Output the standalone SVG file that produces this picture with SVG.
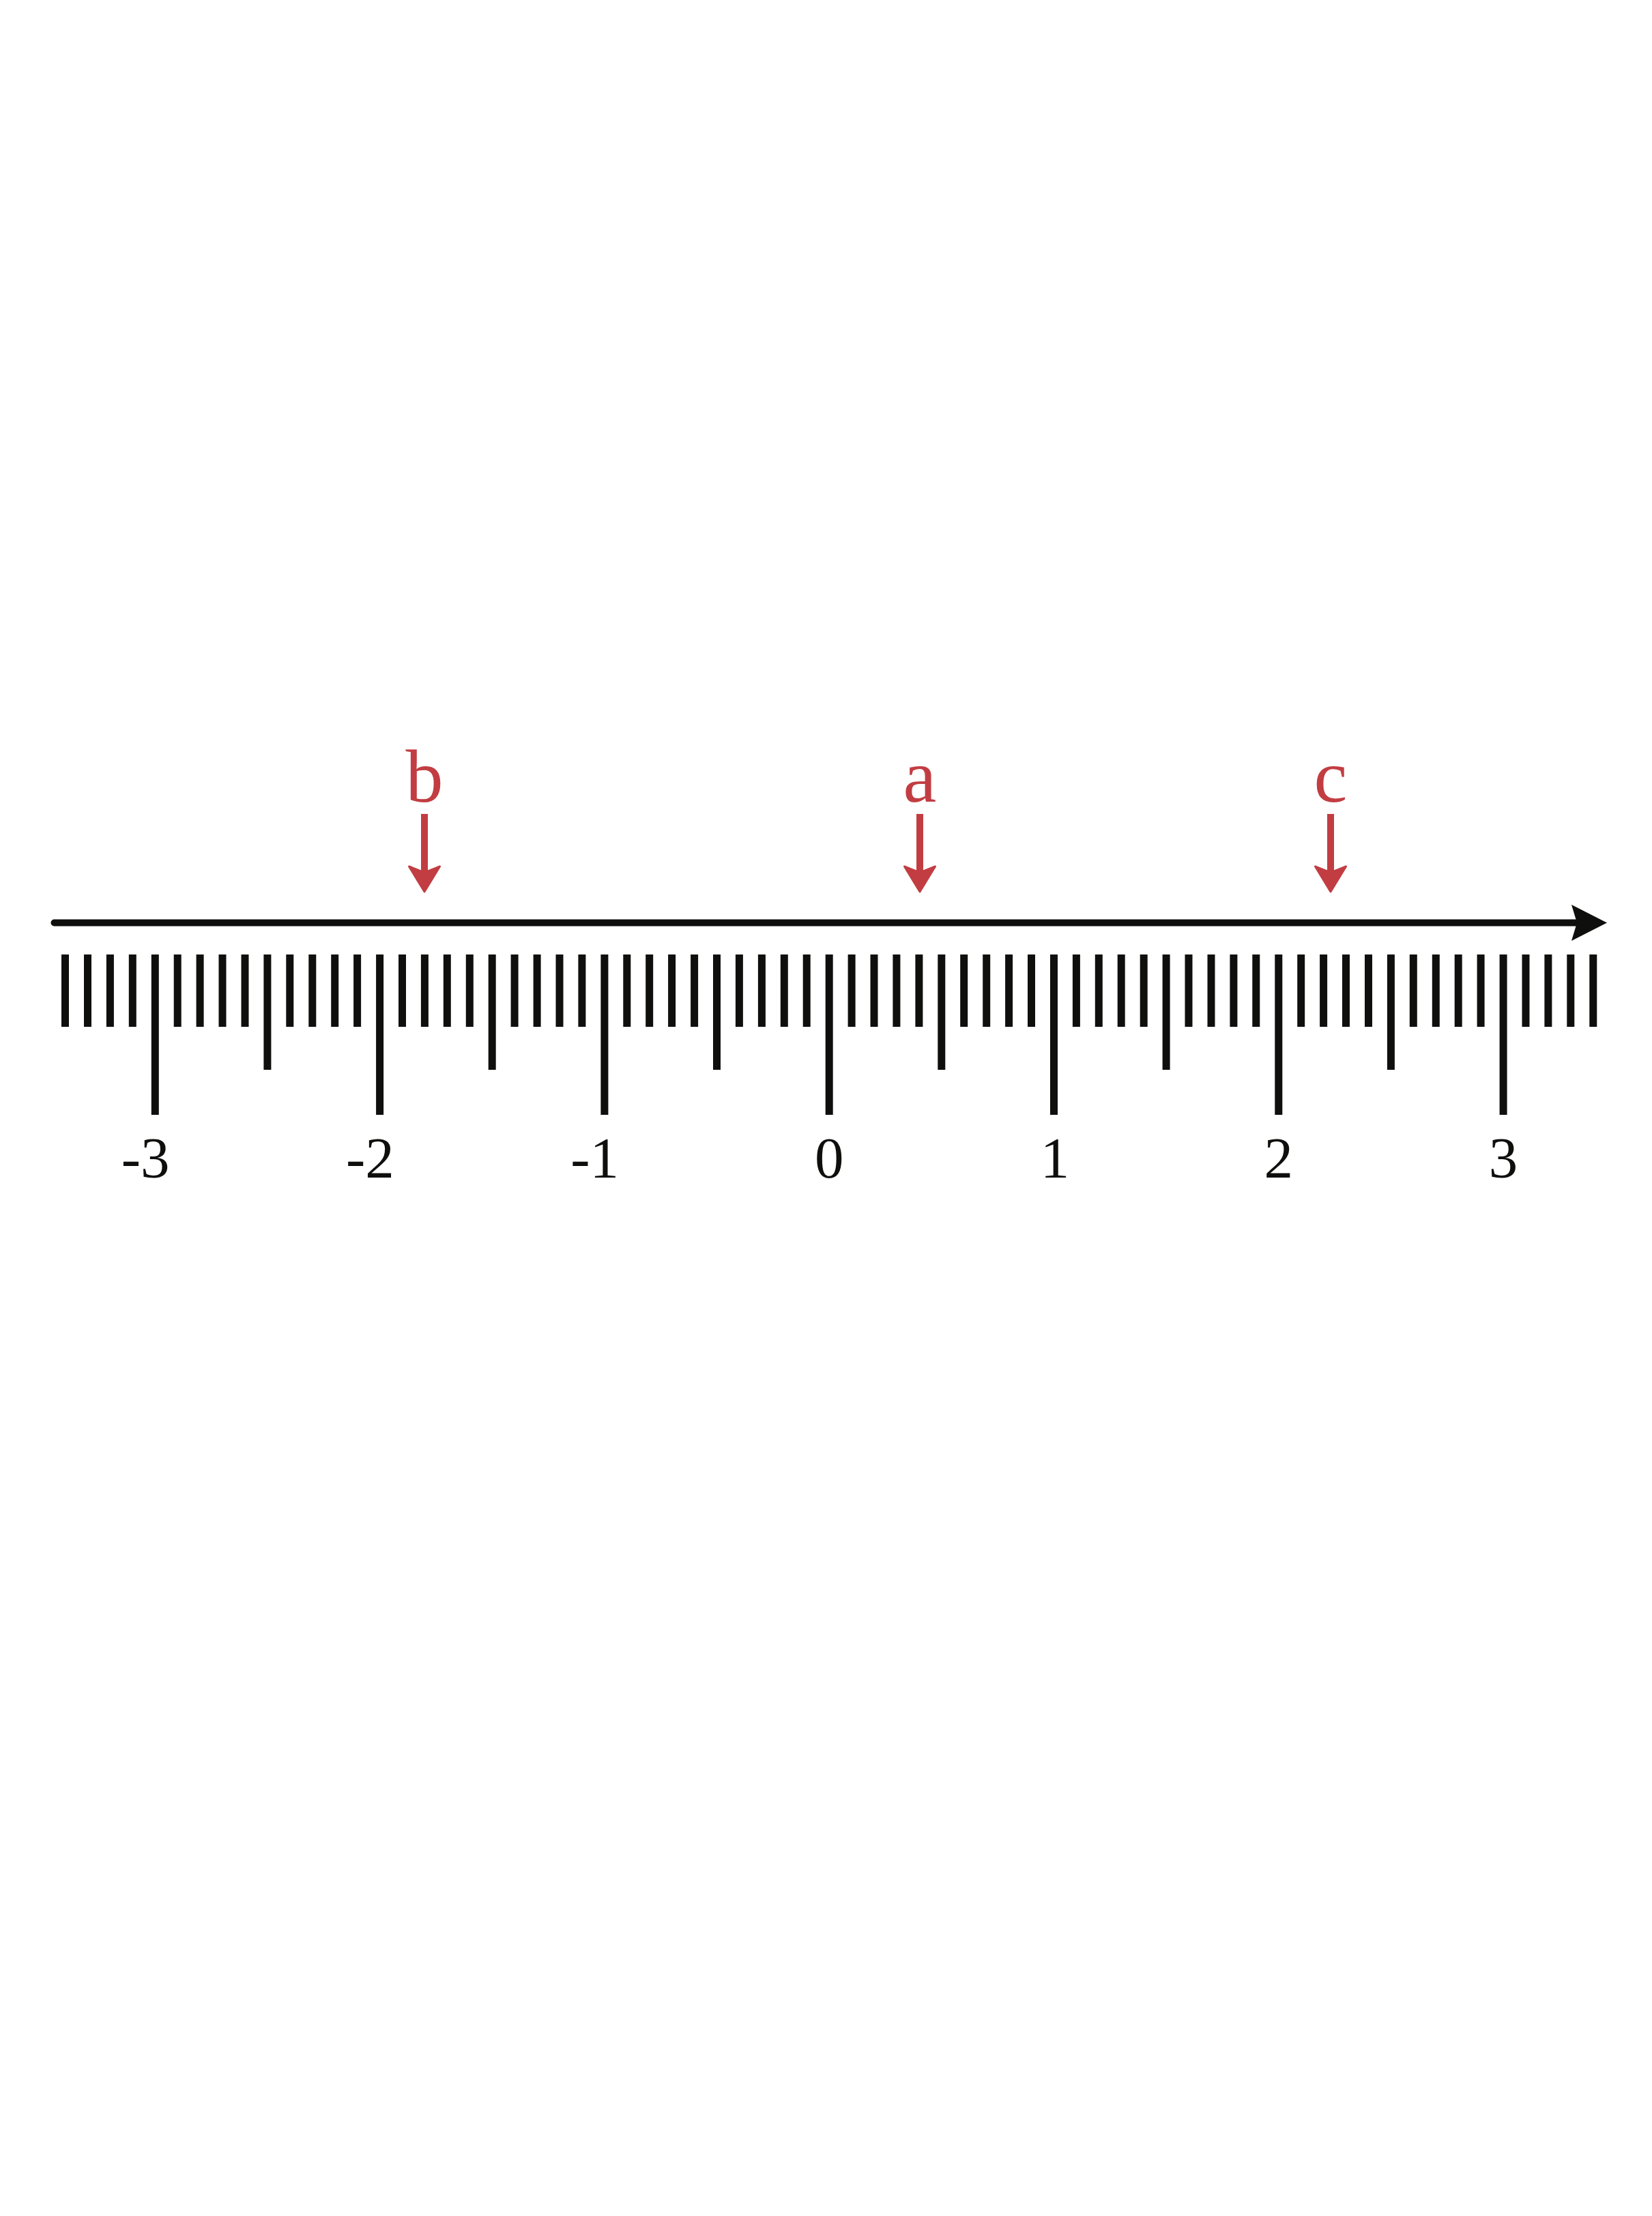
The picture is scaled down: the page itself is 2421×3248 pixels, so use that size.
<svg xmlns="http://www.w3.org/2000/svg" width="2421" height="3248" viewBox="0 0 2421 3248">
<style>
.ax{stroke:#0f0f0d;stroke-width:10;stroke-linecap:round;fill:none}
.tk{stroke:#0f0f0d;stroke-width:11;fill:none}
.num{font-family:"Liberation Serif","Times New Roman",serif;font-size:85px;fill:#0f0f0d}
.lbl{font-family:"Liberation Serif","Times New Roman",serif;font-size:110px;fill:#c23d42;text-anchor:middle}
.rs{stroke:#c23d42;stroke-width:10;fill:none}
.rh{fill:#c23d42;stroke:#c23d42;stroke-width:3;stroke-linejoin:round}
</style>
<rect width="2421" height="3248" fill="#ffffff"/>
<g id="axis">
<line class="ax" x1="79.5" y1="1352.5" x2="2312" y2="1352.5"/>
<path d="M2355,1352.5 L2303,1326 L2311,1352.5 L2303,1379 Z" fill="#0f0f0d"/>
</g>
<g id="ticks">
<path class="tk" d="M95.5,1399V1505 M128.5,1399V1505 M161.4,1399V1505 M194.3,1399V1505 M260.2,1399V1505 M293.1,1399V1505 M326,1399V1505 M359,1399V1505 M424.8,1399V1505 M457.8,1399V1505 M490.7,1399V1505 M523.6,1399V1505 M589.5,1399V1505 M622.4,1399V1505 M655.3,1399V1505 M688.3,1399V1505 M754.1,1399V1505 M787.1,1399V1505 M820,1399V1505 M852.9,1399V1505 M918.8,1399V1505 M951.7,1399V1505 M984.6,1399V1505 M1017.6,1399V1505 M1083.4,1399V1505 M1116.4,1399V1505 M1149.3,1399V1505 M1182.2,1399V1505 M1248.1,1399V1505 M1281,1399V1505 M1313.9,1399V1505 M1346.9,1399V1505 M1412.7,1399V1505 M1445.7,1399V1505 M1478.6,1399V1505 M1511.5,1399V1505 M1577.4,1399V1505 M1610.3,1399V1505 M1643.2,1399V1505 M1676.2,1399V1505 M1742,1399V1505 M1775,1399V1505 M1807.9,1399V1505 M1840.8,1399V1505 M1906.7,1399V1505 M1939.6,1399V1505 M1972.5,1399V1505 M2005.5,1399V1505 M2071.3,1399V1505 M2104.3,1399V1505 M2137.2,1399V1505 M2170.1,1399V1505 M2236,1399V1505 M2268.9,1399V1505 M2301.8,1399V1505 M2334.8,1399V1505"/>
<path class="tk" d="M391.9,1399V1568 M721.2,1399V1568 M1050.5,1399V1568 M1379.8,1399V1568 M1709.1,1399V1568 M2038.4,1399V1568"/>
<path class="tk" d="M227.3,1399V1634 M556.6,1399V1634 M885.9,1399V1634 M1215.2,1399V1634 M1544.5,1399V1634 M1873.8,1399V1634 M2203.1,1399V1634"/>
</g>
<g id="numbers">
<text class="num" x="248.5" y="1726" text-anchor="end">-3</text>
<text class="num" x="577.8" y="1726" text-anchor="end">-2</text>
<text class="num" x="907.1" y="1726" text-anchor="end">-1</text>
<text class="num" x="1215.2" y="1726" text-anchor="middle">0</text>
<text class="num" x="1546" y="1726" text-anchor="middle">1</text>
<text class="num" x="1873.8" y="1726" text-anchor="middle">2</text>
<text class="num" x="2203.1" y="1726" text-anchor="middle">3</text>
</g>
<g id="label-b"><text class="lbl" x="622" y="1175">b</text></g>
<g id="label-a"><text class="lbl" x="1348" y="1175">a</text></g>
<g id="label-c"><text class="lbl" x="1950" y="1175">c</text></g>
<g id="connectors">
<line class="rs" x1="622" y1="1193" x2="622" y2="1285"/>
<path class="rh" d="M599.5,1270 L622,1307 L644.5,1270 L622,1279 Z"/>
<line class="rs" x1="1348" y1="1193" x2="1348" y2="1285"/>
<path class="rh" d="M1325.5,1270 L1348,1307 L1370.5,1270 L1348,1279 Z"/>
<line class="rs" x1="1950" y1="1193" x2="1950" y2="1285"/>
<path class="rh" d="M1927.5,1270 L1950,1307 L1972.5,1270 L1950,1279 Z"/>
</g>
</svg>
